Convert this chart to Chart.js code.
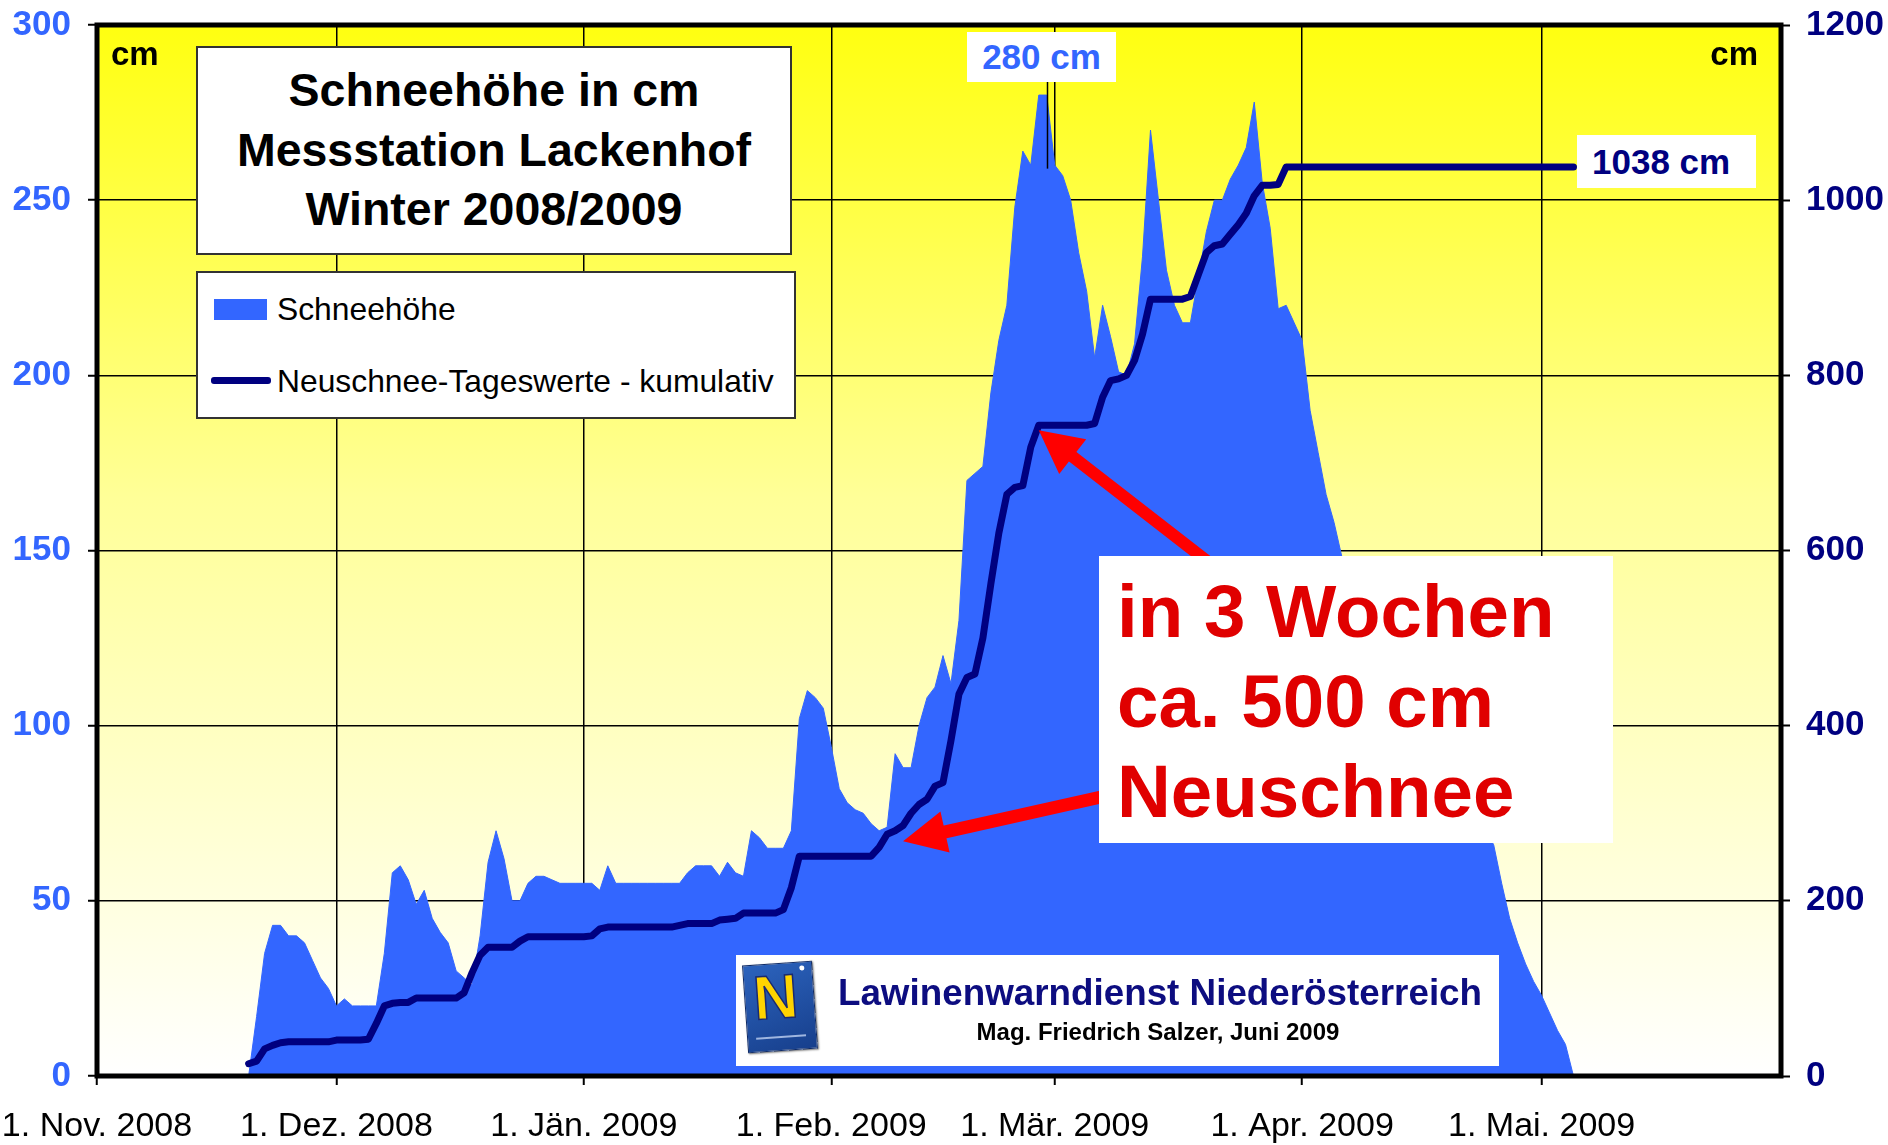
<!DOCTYPE html>
<html>
<head>
<meta charset="utf-8">
<script src="https://cdn.jsdelivr.net/npm/chart.js@4.4.0/dist/chart.umd.min.js"></script>
<style>
html,body{margin:0;padding:0;background:#fff;}
#wrap{position:relative;width:1888px;height:1145px;overflow:hidden;font-family:'Liberation Sans',Arial,sans-serif;}
#c{position:absolute;left:0;top:0;}
.box{position:absolute;background:#fff;box-sizing:border-box;}
.abs{position:absolute;white-space:nowrap;}
</style>
</head>
<body>
<div id="wrap">
<canvas id="c" width="1888" height="1145"></canvas>

<div class="abs" style="left:111px;top:36px;font-weight:bold;font-size:33px;line-height:36px;color:#000;">cm</div>
<div class="abs" style="right:130px;top:36px;font-weight:bold;font-size:33px;line-height:36px;color:#000;">cm</div>

<div class="box" style="left:196px;top:46px;width:596px;height:209px;border:2px solid #333;">
  <div class="abs" style="left:0;right:0;top:13px;text-align:center;font-weight:bold;font-size:46.5px;line-height:59.5px;color:#000;">Schneehöhe in cm<br>Messstation Lackenhof<br>Winter 2008/2009</div>
</div>

<div class="box" style="left:196px;top:271px;width:600px;height:148px;border:2px solid #333;">
  <div class="abs" style="left:16px;top:26px;width:53px;height:21px;background:#3366FF;"></div>
  <div class="abs" id="leg1" style="left:79px;top:18px;font-size:31.8px;line-height:36px;color:#000;"></div>
  <div class="abs" style="left:13px;top:104px;width:60px;height:7px;background:#000080;border-radius:3px;"></div>
  <div class="abs" id="leg2" style="left:79px;top:90px;font-size:31.8px;line-height:36px;color:#000;"></div>
</div>

<div class="box" id="peakBox" style="left:967px;top:32px;width:149px;height:50px;text-align:center;font-weight:bold;font-size:35px;line-height:50px;color:#3366FF;"></div>
<div class="box" id="totalBox" style="left:1577px;top:135px;width:179px;height:53px;padding-left:15px;font-weight:bold;font-size:35px;line-height:53px;color:#000080;"></div>

<div class="box" style="left:1099px;top:556px;width:514px;height:287px;">
  <div class="abs" style="left:18px;top:11px;font-weight:bold;font-size:74.5px;line-height:90px;color:#E00000;">in 3 Wochen<br>ca. 500 cm<br>Neuschnee</div>
</div>

<div class="box" style="left:736px;top:955px;width:763px;height:111px;">
  <div class="abs" style="left:9px;top:8px;width:68px;height:86px;transform:rotate(-4deg);background:linear-gradient(160deg,#2c63bd,#173f8c);border:1px solid #0e2a66;box-shadow:1px 1px 2px #777;overflow:hidden;">
    <div class="abs" style="left:8px;top:1px;font-weight:bold;font-size:62px;line-height:64px;color:#FFD400;-webkit-text-stroke:1.5px #1a2a70;">N</div>
    <div class="abs" style="left:56px;top:3px;width:5px;height:5px;border-radius:50%;background:#fff;"></div>
    <div class="abs" style="left:8px;top:72px;width:50px;height:2px;background:#9fb6e0;"></div>
  </div>
  <div class="abs" style="left:83px;width:682px;top:18px;text-align:center;font-weight:bold;font-size:36.8px;line-height:40px;color:#0d0d80;">Lawinenwarndienst Niederösterreich</div>
  <div class="abs" style="left:81px;width:682px;top:64px;text-align:center;font-weight:bold;font-size:24px;line-height:26px;color:#000;">Mag. Friedrich Salzer, Juni 2009</div>
</div>
</div>

<script>
// ---------------- data ----------------
const seasonStart = '2008-11-01';
const axisEnd = '2009-05-31';
const monthStarts = ['2008-11-01','2008-12-01','2009-01-01','2009-02-01','2009-03-01','2009-04-01','2009-05-01'];
const monthLabels = ['1. Nov. 2008','1. Dez. 2008','1. Jän. 2009','1. Feb. 2009','1. Mär. 2009','1. Apr. 2009','1. Mai. 2009'];

// daily values starting 20.11.2008
const seriesStart = '2008-11-20';
// Schneehöhe (cm), left axis
const snowDepth = [
  0,17,35,43,43,40,40,38,33,28,
  25,20,22,20,20,20,20,35,58,60,
  56,49,53,45,41,38,30,28,26,40,
  61,70,62,50,50,55,57,57,56,55,
  55,55,55,55,53,60,55,55,55,55,
  55,55,55,55,55,58,60,60,60,57,
  61,58,57,70,68,65,65,65,70,102,
  110,108,105,94,82,78,76,75,72,70,
  71,92,88,88,100,108,111,120,112,130,
  170,172,174,195,210,220,248,264,260,280,
  280,260,257,250,235,224,205,220,211,201,
  200,209,234,270,250,230,220,215,215,228,
  241,250,250,256,260,265,278,255,242,219,
  220,215,210,190,178,166,158,148,141,135,
  130,125,120,115,111,107,103,99,95,91,
  87,83,79,76,73,70,66,55,45,38,
  32,27,23,18,13,9,0
];
// Neuschnee-Tageswerte kumulativ (cm), right axis
const newSnowCumulative = [
  14,17,31,35,38,39,39,39,39,39,
  39,41,41,41,41,42,60,80,83,84,
  84,89,89,89,89,89,89,95,118,138,
  147,147,147,147,154,159,159,159,159,159,
  159,159,159,160,168,170,170,170,170,170,
  170,170,170,170,172,174,174,174,174,178,
  179,180,186,186,186,186,186,190,215,251,
  251,251,251,251,251,251,251,251,251,261,
  276,280,286,300,310,316,331,335,383,436,
  455,459,500,562,620,664,672,674,718,743,
  743,743,743,743,743,743,745,775,794,796,
  800,817,847,887,887,887,887,887,890,915,
  940,948,950,961,972,985,1005,1017,1017,1018,
  1038,1038,1038,1038,1038,1038,1038,1038,1038,1038,
  1038,1038,1038,1038,1038,1038,1038,1038,1038,1038,
  1038,1038,1038,1038,1038,1038,1038,1038,1038,1038,
  1038,1038,1038,1038,1038,1038,1038
];
const leftTicks = {min:0, max:300, step:50};
const rightTicks = {min:0, max:1200, step:200};

// ---------------- helpers ----------------
function dayIndex(s){
  const p = s.split('-').map(Number);
  const b = seasonStart.split('-').map(Number);
  return Math.round((Date.UTC(p[0],p[1]-1,p[2]) - Date.UTC(b[0],b[1]-1,b[2]))/86400000);
}
const FONT = "'Liberation Sans', Arial, sans-serif";
const start = dayIndex(seriesStart);
const monthDays = monthStarts.map(dayIndex);
const depthPts = snowDepth.map((v,i)=>({x:start+i, y:v}));
const cumPts = newSnowCumulative.map((v,i)=>({x:start+i, y:v}));

const peakVal = Math.max(...snowDepth);
const peakDay = start + snowDepth.indexOf(peakVal);
const totalVal = newSnowCumulative[newSnowCumulative.length-1];

document.getElementById('leg1').textContent = 'Schneehöhe';
document.getElementById('leg2').textContent = 'Neuschnee-Tageswerte - kumulativ';
document.getElementById('peakBox').textContent = peakVal + ' cm';
document.getElementById('totalBox').textContent = totalVal + ' cm';

function drawArrow(ctx, tx, ty, hx, hy, shaftW, headLen, headHalf){
  const a = Math.atan2(hy-ty, hx-tx);
  const bx = hx - headLen*Math.cos(a), by = hy - headLen*Math.sin(a);
  ctx.save();
  ctx.strokeStyle = '#FF0000'; ctx.fillStyle = '#FF0000';
  ctx.lineWidth = shaftW; ctx.lineCap = 'butt';
  ctx.beginPath(); ctx.moveTo(tx,ty); ctx.lineTo(bx+2*Math.cos(a),by+2*Math.sin(a)); ctx.stroke();
  ctx.beginPath();
  ctx.moveTo(hx,hy);
  ctx.lineTo(bx + headHalf*Math.sin(a), by - headHalf*Math.cos(a));
  ctx.lineTo(bx - headHalf*Math.sin(a), by + headHalf*Math.cos(a));
  ctx.closePath(); ctx.fill();
  ctx.restore();
}

const bgPlugin = {
  id:'bg',
  beforeDraw(chart){
    const {ctx, chartArea:a} = chart;
    ctx.save();
    ctx.fillStyle = '#fff';
    ctx.fillRect(0,0,chart.width,chart.height);
    const g = ctx.createLinearGradient(0,a.top,0,a.bottom);
    g.addColorStop(0,'#FFFF10');
    g.addColorStop(0.45,'#FFFF98');
    g.addColorStop(1,'#FFFFFF');
    ctx.fillStyle = g;
    ctx.fillRect(a.left,a.top,a.right-a.left,a.bottom-a.top);
    ctx.restore();
  },
  afterDraw(chart){
    const {ctx, chartArea:a, scales} = chart;
    const xs = scales.x, ys = scales.y, y2 = scales.y2;
    ctx.save();
    // leader line for peak label
    ctx.strokeStyle = '#000'; ctx.lineWidth = 1.5;
    const lx = Math.round(xs.getPixelForValue(peakDay+1))+0.5;
    ctx.beginPath(); ctx.moveTo(lx, 82); ctx.lineTo(lx, ys.getPixelForValue(259)); ctx.stroke();
    // arrows
    drawArrow(ctx, 1225, 575, xs.getPixelForValue(118), y2.getPixelForValue(743)+5, 12, 43, 22);
    drawArrow(ctx, 1110, 795, xs.getPixelForValue(101), y2.getPixelForValue(268), 13, 43, 21);
    // frame
    ctx.strokeStyle = '#000'; ctx.lineWidth = 5;
    ctx.strokeRect(a.left, a.top, a.right-a.left, a.bottom-a.top);
    ctx.restore();
  }
};

new Chart(document.getElementById('c'), {
  type:'line',
  data:{
    datasets:[
      {label:'Neuschnee-Tageswerte - kumulativ', data:cumPts, yAxisID:'y2', borderColor:'#000080',
       borderWidth:7, pointRadius:0, fill:false, tension:0, order:0, borderCapStyle:'round', borderJoinStyle:'round'},
      {label:'Schneehöhe', data:depthPts, yAxisID:'y', backgroundColor:'#3366FF', borderColor:'#3366FF',
       borderWidth:1, pointRadius:0, fill:'origin', tension:0, order:1}
    ]
  },
  options:{
    responsive:false, animation:false, devicePixelRatio:1,
    layout:{padding:{top:25,left:0,right:0,bottom:0}},
    plugins:{legend:{display:false}, tooltip:{enabled:false}},
    scales:{
      x:{type:'linear', position:'bottom', min:0, max:dayIndex(axisEnd),
        afterBuildTicks:(s)=>{ s.ticks = monthDays.map(v=>({value:v})); },
        afterFit:(s)=>{ s.height = 69; s.paddingLeft = 0; s.paddingRight = 0; },
        ticks:{autoSkip:false, maxRotation:0, minRotation:0, padding:21, color:'#000',
          font:{family:FONT, size:34},
          callback:(v)=>{ const i = monthDays.indexOf(v); return i>=0 ? monthLabels[i] : ''; }},
        grid:{color:'#000', lineWidth:1.5, tickLength:9, tickColor:'#000', tickWidth:2},
        border:{display:false}
      },
      y:{position:'left', min:leftTicks.min, max:leftTicks.max,
        afterFit:(s)=>{ s.width = 97; s.paddingTop = 0; s.paddingBottom = 0; },
        ticks:{stepSize:leftTicks.step, padding:17, color:'#3366FF', font:{family:FONT, size:35, weight:'bold'},
          callback:(v)=>String(v)},
        grid:{color:'#000', lineWidth:1.5, tickLength:9, tickColor:'#000', tickWidth:2},
        border:{display:false}
      },
      y2:{position:'right', min:rightTicks.min, max:rightTicks.max,
        afterFit:(s)=>{ s.width = 107; s.paddingTop = 0; s.paddingBottom = 0; },
        ticks:{stepSize:rightTicks.step, padding:16, color:'#000080', font:{family:FONT, size:35, weight:'bold'},
          callback:(v)=>String(v)},
        grid:{drawOnChartArea:false, color:'#000', tickLength:9, tickColor:'#000', tickWidth:2},
        border:{display:false}
      }
    }
  },
  plugins:[bgPlugin]
});
</script>
</body>
</html>
